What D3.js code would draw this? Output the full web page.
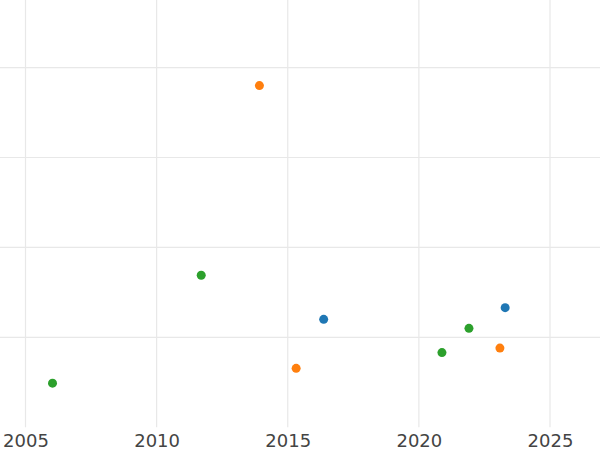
<!DOCTYPE html>
<html>
<head>
<meta charset="utf-8">
<script src="https://cdn.jsdelivr.net/npm/d3@7"></script>
<style>
  html, body { margin: 0; padding: 0; background: #fff; }
  svg { display: block; }
</style>
</head>
<body>
<svg id="chart" width="600" height="450"></svg>
<script>
// ---- data ----
const seriesNames = ["A", "B", "C"];
const seriesColors = ["#1f77b4", "#ff7f0e", "#2ca02c"];
const blueX = [2016.37, 2023.29];
const blueY = [1.20, 1.33];
const orangeX = [2013.92, 2015.32, 2023.09];
const orangeY = [3.80, 0.655, 0.88];
const greenX = [2006.03, 2011.70, 2020.88, 2021.91];
const greenY = [0.49, 1.69, 0.83, 1.10];
const xTicks = [2005, 2010, 2015, 2020, 2025];
const yGrid = [1, 2, 3, 4];

const W = 600, H = 450;
const plotBottom = 427.2;
const svg = d3.select("#chart");

const x = d3.scaleLinear().domain([2005, 2025]).range([25.5, 550]);
const y = d3.scaleLinear().domain([0, 4]).range([plotBottom, 67.6]);

// gridlines
svg.append("g").selectAll("line").data(yGrid).join("line")
  .attr("x1", 0).attr("x2", W)
  .attr("y1", d => y(d)).attr("y2", d => y(d))
  .attr("stroke", "#e8e8e8").attr("stroke-width", 1.2);

svg.append("g").selectAll("line").data(xTicks).join("line")
  .attr("x1", d => x(d)).attr("x2", d => x(d))
  .attr("y1", 0).attr("y2", plotBottom)
  .attr("stroke", "#e8e8e8").attr("stroke-width", 1.2);

// x axis labels
const xAxis = d3.axisBottom(x).tickValues(xTicks).tickFormat(d3.format("d")).tickSize(0).tickPadding(7);
const gx = svg.append("g").attr("transform", `translate(0,${plotBottom})`).call(xAxis);
gx.select(".domain").remove();
gx.selectAll("text")
  .attr("font-family", "DejaVu Sans, sans-serif")
  .attr("font-size", 18)
  .attr("fill", "#444");

// points
const series = [
  { xs: blueX, ys: blueY },
  { xs: orangeX, ys: orangeY },
  { xs: greenX, ys: greenY }
];
series.forEach((s, i) => {
  const pts = s.xs.map((v, j) => [v, s.ys[j]]);
  svg.append("g").selectAll("circle").data(pts).join("circle")
    .attr("cx", d => x(d[0]))
    .attr("cy", d => y(d[1]))
    .attr("r", 4.5)
    .attr("fill", seriesColors[i]);
});
</script>
</body>
</html>
